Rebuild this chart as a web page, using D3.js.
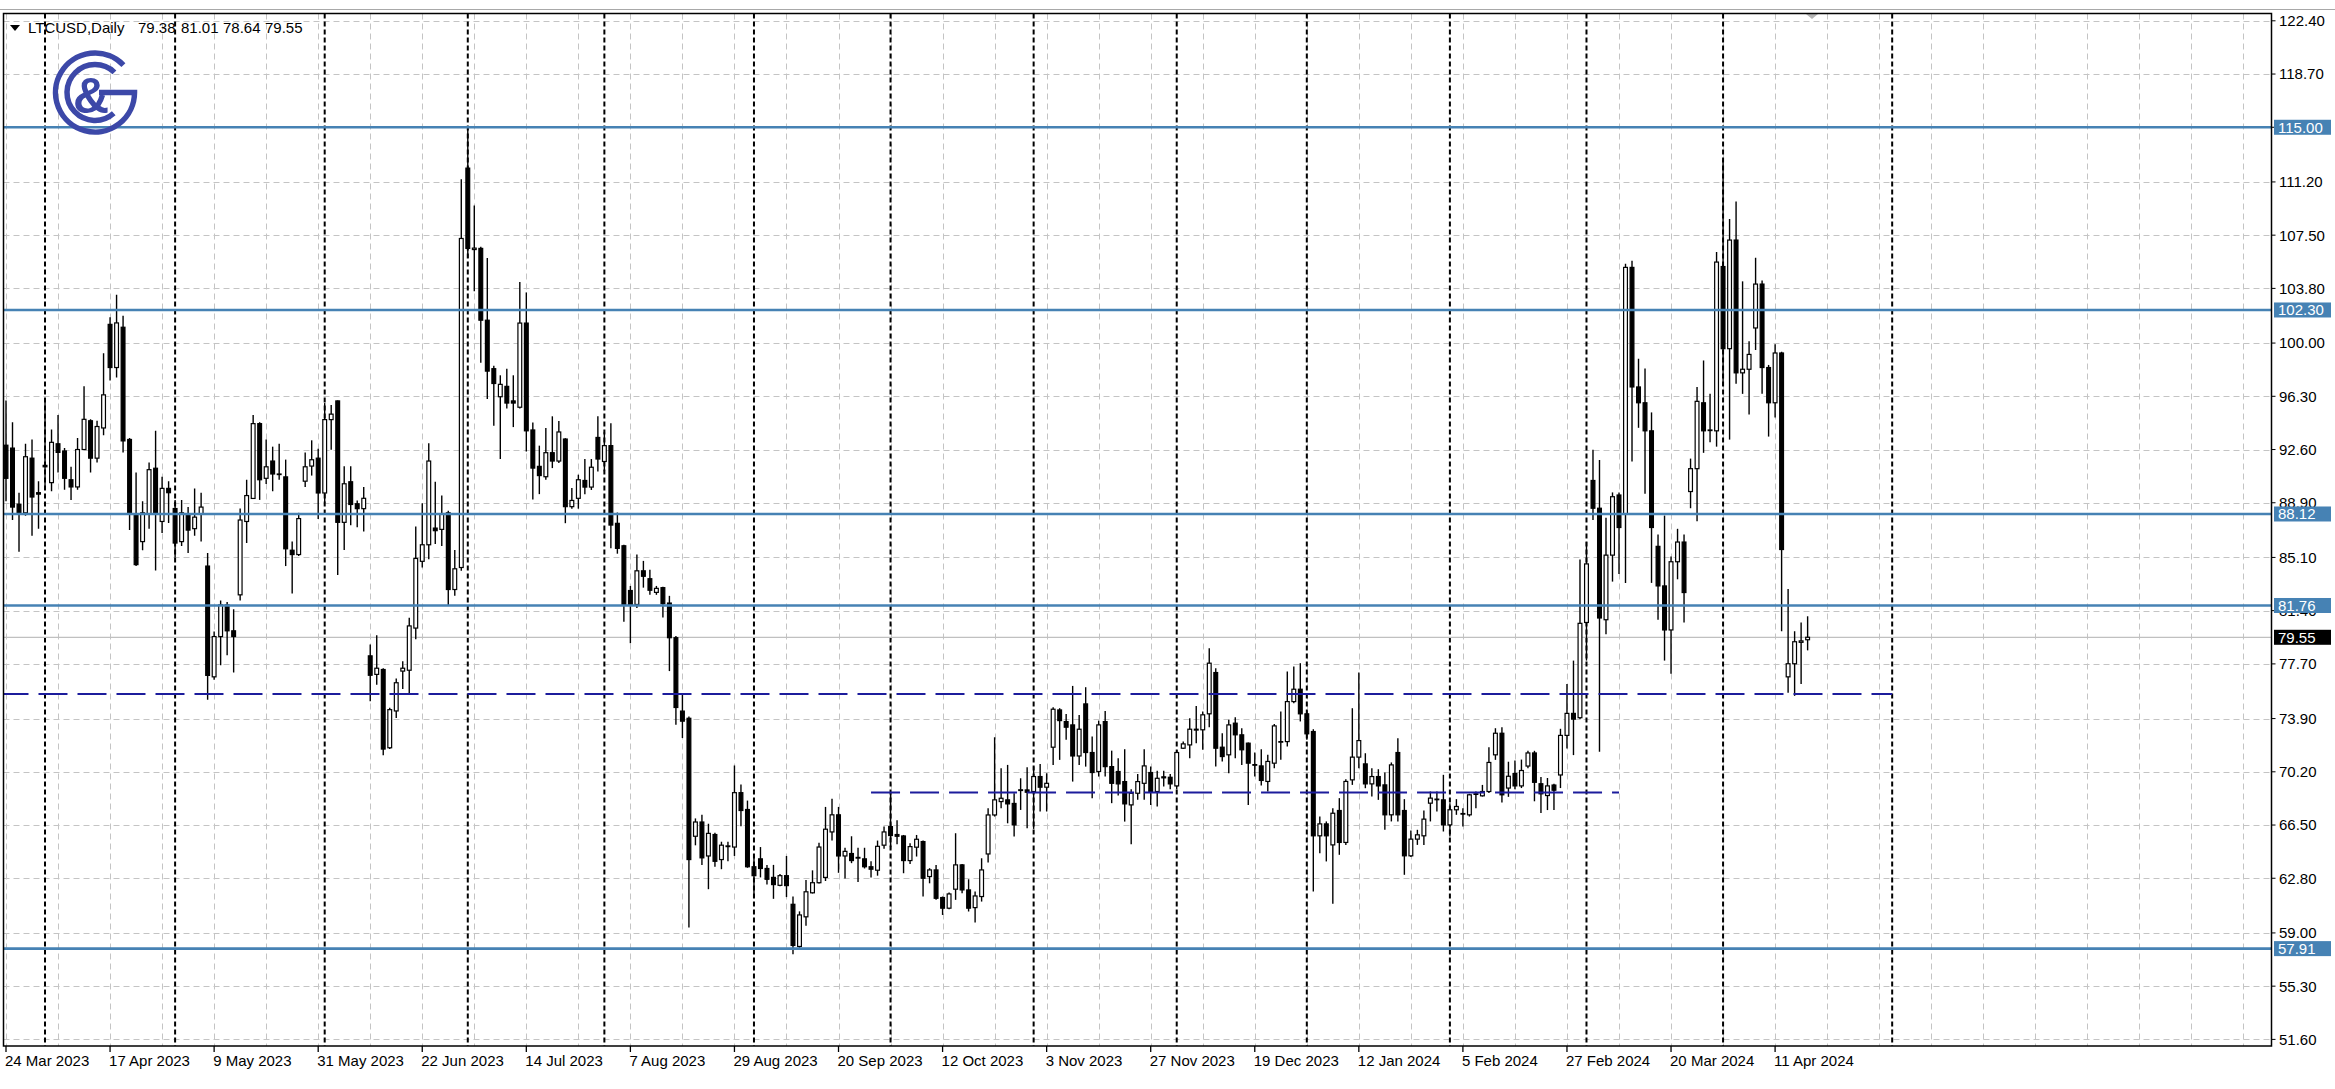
<!DOCTYPE html>
<html><head><meta charset="utf-8">
<script src="https://cdnjs.cloudflare.com/ajax/libs/d3/7.8.5/d3.min.js"></script>
<style>
html,body{margin:0;padding:0;background:#fff;overflow:hidden;}
svg{display:block;}
text{font-family:"Liberation Sans",Arial,sans-serif;}
</style></head><body>
<script>
// ---------------- DATA ----------------
const symbolName = "LTCUSD,Daily";
const lastQuote = [79.38, 81.01, 78.64, 79.55];

const openP = [
92.90,92.70,88.80,88.20,92.00,89.60,91.50,90.30,93.00,92.50,90.50,90.00,92.60,94.60,92.00,94.10,101.30,98.30,101.10,93.30,
88.10,86.20,88.10,91.30,87.60,89.90,88.50,86.20,88.10,87.10,88.10,84.50,76.80,79.60,81.80,80.00,82.50,87.60,89.20,94.40,
90.60,91.80,90.90,90.70,85.60,85.30,90.40,91.45,92.00,89.58,94.68,95.98,87.54,90.36,88.83,88.49,78.26,76.97,77.31,71.87,
74.43,77.20,77.26,80.19,84.83,85.98,87.14,87.05,88.20,82.87,84.40,112.16,106.50,106.58,101.59,98.22,96.27,96.99,95.98,95.54,
101.39,93.96,91.43,90.71,92.38,91.80,93.33,88.63,89.21,90.45,89.99,93.44,91.77,92.87,87.47,85.91,82.80,81.83,84.17,83.62,
82.67,83.00,81.93,79.52,74.42,73.92,65.72,66.71,64.35,65.84,64.10,65.00,64.97,68.75,67.58,63.60,64.15,63.48,62.86,62.31,
62.98,60.99,58.06,60.12,61.79,62.49,62.86,66.02,67.21,64.35,64.52,64.20,64.15,63.60,63.36,65.10,66.39,65.84,65.74,64.03,
64.96,65.35,62.92,63.38,61.46,60.72,62.04,63.73,61.99,60.76,61.53,64.49,67.20,68.13,68.25,68.00,68.90,68.94,68.83,69.87,
69.13,71.91,74.50,73.69,73.46,71.30,74.92,71.54,70.22,73.69,70.56,70.22,69.52,67.90,68.71,69.40,70.15,68.83,69.85,69.82,
69.22,71.84,72.07,73.10,73.12,74.23,77.10,71.91,71.38,73.58,72.77,72.19,70.70,70.61,69.53,70.80,72.30,72.30,75.08,75.94,
74.23,73.00,65.75,66.58,65.12,67.51,65.29,69.64,71.22,70.75,69.36,69.87,69.29,67.21,71.54,67.51,64.36,65.52,65.75,68.02,
68.30,68.25,66.51,67.56,67.30,67.21,68.63,68.53,68.83,71.38,72.88,69.07,70.08,69.22,70.60,71.51,69.37,68.55,69.28,69.98,
72.73,74.26,73.96,80.58,90.45,88.52,80.77,85.26,89.44,88.10,105.26,96.95,95.85,93.90,85.87,83.12,80.06,84.80,86.17,89.68,
91.27,95.85,93.95,93.90,105.32,99.61,107.16,97.93,98.18,101.05,104.10,98.30,95.85,99.31,76.80,77.71,79.20,79.38];

const highP = [
96.00,94.50,89.60,93.00,93.30,90.40,95.90,94.00,95.00,92.70,91.40,93.40,97.00,94.70,94.60,99.30,101.80,103.35,101.90,93.40,
91.00,89.00,91.70,93.90,90.70,90.40,89.10,89.10,88.60,89.90,89.60,85.40,79.95,82.10,82.00,81.50,88.50,90.50,95.00,94.50,
93.30,92.80,93.00,91.90,86.20,88.20,92.40,93.24,92.66,95.83,95.69,96.00,91.43,91.43,89.06,89.99,79.04,79.70,77.40,74.66,
76.68,77.89,80.91,87.25,88.86,93.04,90.36,89.41,88.34,85.61,111.39,114.99,109.57,106.69,105.91,98.43,97.76,98.22,97.76,104.24,
103.52,94.48,92.87,94.10,94.91,94.59,93.39,89.93,90.85,91.94,91.94,94.91,93.81,94.43,88.22,85.98,83.12,85.31,84.86,84.24,
83.12,83.07,82.43,79.64,75.66,74.05,66.96,67.21,66.59,65.97,65.34,65.34,70.64,69.32,68.20,64.35,64.97,63.73,63.73,63.10,
64.35,61.54,60.50,62.68,63.35,65.27,67.76,68.33,67.76,64.92,65.72,64.92,64.92,63.98,65.42,66.39,68.70,66.84,65.81,65.23,
65.81,65.42,63.50,63.73,61.53,61.81,65.93,63.80,62.73,61.88,64.19,67.67,72.60,70.45,70.68,68.71,69.75,70.52,70.56,70.75,
70.10,74.69,74.62,74.22,76.17,74.15,76.08,72.65,73.76,74.43,71.67,71.14,71.77,68.99,70.05,71.77,70.56,70.28,70.28,70.05,
71.72,72.30,73.92,74.78,74.39,78.79,77.40,72.88,73.81,74.00,73.23,72.24,71.54,71.77,71.38,73.53,74.39,77.17,77.52,77.75,
74.46,73.16,67.09,66.75,67.67,68.37,69.69,74.62,77.10,71.49,70.45,70.38,70.15,70.85,72.54,68.30,66.12,66.17,67.51,68.83,
68.83,69.99,68.02,68.30,67.67,68.67,68.83,69.29,71.91,73.23,73.30,70.90,70.99,71.05,71.66,71.66,69.83,69.77,69.37,73.19,
76.31,77.93,84.95,86.17,92.59,91.88,87.85,89.62,89.62,105.51,105.72,98.91,98.24,95.18,86.69,88.01,85.16,87.09,86.69,91.97,
96.95,98.79,96.47,106.33,112.75,108.62,109.84,104.29,100.13,105.93,104.35,98.48,99.92,99.40,82.90,79.97,80.58,81.01];

const lowP = [
89.00,87.70,85.50,88.00,86.60,87.10,90.00,89.70,91.00,89.80,89.10,89.80,92.60,91.00,91.70,93.60,97.40,97.60,92.40,87.00,
84.50,85.60,87.10,84.20,86.80,87.50,85.10,85.90,85.40,86.60,86.20,75.20,76.60,77.60,78.30,77.10,82.10,86.10,89.20,89.10,
90.20,89.70,90.50,84.50,82.60,85.20,90.00,90.79,87.77,88.92,92.58,83.88,85.61,87.34,87.19,86.90,75.10,76.25,71.35,71.78,
73.94,75.96,75.58,79.42,84.40,84.97,86.04,85.90,81.72,82.44,84.17,105.91,103.61,98.63,96.12,94.25,91.94,95.46,94.16,95.46,
92.46,89.12,89.50,90.50,91.31,91.66,87.48,88.49,88.49,89.50,89.79,91.08,91.08,85.73,85.36,80.63,79.14,81.58,83.00,82.50,
82.50,80.93,77.20,73.47,72.55,59.38,65.09,63.73,62.04,63.60,63.43,63.98,64.35,66.41,63.53,61.49,62.86,62.36,61.37,62.24,
61.49,57.51,57.96,59.50,61.74,62.44,62.61,65.42,63.18,62.78,63.85,62.54,63.48,62.86,62.98,64.85,64.97,65.17,63.15,63.80,
64.31,61.53,62.45,61.30,60.25,60.65,61.30,61.76,60.49,59.72,61.18,63.89,67.09,67.67,66.62,65.70,67.55,66.28,66.23,67.44,
67.44,70.68,71.03,72.42,69.52,70.68,70.56,68.36,69.87,69.87,68.02,68.55,66.74,65.17,68.25,68.25,67.90,67.78,69.17,68.99,
68.99,71.78,71.14,72.18,71.73,73.30,70.57,70.92,70.10,71.15,70.68,67.90,69.87,69.25,68.83,70.45,71.03,71.96,74.97,73.70,
72.42,61.88,64.54,63.97,61.02,64.43,65.12,69.29,70.45,69.06,68.48,68.25,66.17,66.75,66.75,63.04,64.27,65.12,65.12,66.75,
67.44,66.05,65.70,67.21,66.40,67.09,67.67,68.48,68.72,71.03,68.07,68.46,68.98,69.07,70.44,68.15,67.33,67.54,67.54,69.07,
71.82,71.36,73.86,77.93,87.70,71.60,79.76,83.42,83.94,83.33,91.76,94.11,89.53,83.33,80.77,77.93,77.01,83.58,80.58,88.52,
87.61,92.37,93.11,92.80,97.02,93.29,97.17,96.47,95.03,99.52,96.47,93.50,94.82,79.97,75.70,75.48,76.31,78.64];

const closeP = [
90.60,88.60,88.20,92.10,89.30,89.50,91.40,93.10,92.40,90.60,90.00,92.60,94.70,92.00,94.20,96.40,98.30,101.40,93.20,88.20,
84.60,88.20,91.20,88.10,89.90,89.60,86.10,88.20,87.00,87.90,88.60,76.90,79.60,81.80,80.00,79.60,87.70,89.40,94.40,90.50,
91.40,90.90,90.90,85.70,85.30,87.80,91.40,91.89,89.58,94.68,95.06,87.54,90.22,88.78,88.49,89.21,76.91,77.40,71.78,74.52,
76.39,77.40,80.34,85.03,85.98,91.80,86.96,88.14,82.87,84.31,107.27,106.58,106.60,101.59,98.05,97.19,97.13,95.83,95.83,101.39,
93.90,91.31,90.79,92.38,91.80,93.82,88.63,89.06,90.50,89.99,91.37,91.94,92.87,87.35,85.73,81.83,81.83,84.17,83.79,82.82,
82.95,81.88,79.52,74.67,73.72,64.10,66.71,64.22,65.92,63.98,65.10,65.05,68.75,67.51,63.60,62.98,63.48,62.73,62.36,62.98,
62.29,58.13,60.25,61.86,62.49,64.97,66.21,67.21,64.35,64.67,64.03,64.25,63.60,63.43,65.02,66.02,65.77,65.72,64.03,65.00,
65.51,62.80,63.38,61.41,60.72,61.71,63.73,61.99,60.72,61.57,63.38,67.20,68.25,68.36,67.97,66.51,68.95,68.78,69.87,69.13,
69.40,74.55,73.76,73.30,71.30,73.16,71.54,70.15,73.46,70.56,69.40,69.36,67.97,68.71,69.52,70.61,68.83,69.75,69.78,69.36,
71.54,72.14,73.16,73.16,74.16,77.75,71.84,71.26,73.46,72.77,71.73,70.80,70.68,69.60,70.92,73.39,72.30,75.08,75.94,74.23,
72.84,65.75,66.58,65.75,67.32,65.29,69.53,71.22,72.37,69.36,69.87,69.22,67.21,70.68,67.21,64.36,65.52,65.82,66.91,68.37,
68.30,66.51,67.56,67.79,67.28,68.60,68.67,68.83,70.85,72.88,68.60,69.89,69.22,70.29,71.51,69.47,68.67,69.22,68.92,72.73,
74.26,73.86,80.52,84.65,88.52,80.89,85.26,89.32,87.18,105.26,96.95,95.85,93.90,87.18,83.12,80.06,84.80,86.17,82.66,91.27,
95.95,93.90,93.96,105.63,99.61,107.16,97.93,98.18,99.21,104.10,98.30,95.85,99.31,85.65,77.71,79.24,79.30,79.55];

const timeLabels = ["24 Mar 2023","17 Apr 2023","9 May 2023","31 May 2023","22 Jun 2023","14 Jul 2023",
  "7 Aug 2023","29 Aug 2023","20 Sep 2023","12 Oct 2023","3 Nov 2023","27 Nov 2023","19 Dec 2023",
  "12 Jan 2024","5 Feb 2024","27 Feb 2024","20 Mar 2024","11 Apr 2024"];
const priceTicks = [122.40,118.70,115.00,111.20,107.50,103.80,100.00,96.30,92.60,88.90,85.10,81.40,
  77.70,73.90,70.20,66.50,62.80,59.00,55.30,51.60];

const solidLevels = [115.00, 102.30, 88.12, 81.76, 57.91];
const dashedLevels = [75.60, 68.77];
const dashedFromBar = [-1, 133];
const dashedToBar = [290, 248];
const holidayDates = ["2023-12-25", "2024-01-01"];

// ---------------- LAYOUT ----------------
const W = 2335, H = 1089;
const plot = {left: 3.5, top: 13.5, right: 2271.5, bottom: 1046};
const N = openP.length;
const barsPerLabel = 16, barsPerGrid = 8;

const x = d3.scaleLinear().domain([0, 272]).range([6, 1775.1]);
const y = d3.scaleLinear().domain([51.6, 122.4]).range([1039.4, 20.8]);
const fmt = d3.format(".2f");

// build trading dates (weekdays, skipping holidays), then future calendar days
const dates = [];
{
  const hol = new Set(holidayDates);
  let d = new Date(Date.UTC(2023, 2, 24));
  while (dates.length < N) {
    const dow = d.getUTCDay(), iso = d.toISOString().slice(0, 10);
    if (dow !== 0 && dow !== 6 && !hol.has(iso)) dates.push(new Date(d));
    d.setUTCDate(d.getUTCDate() + 1);
  }
  let f = new Date(dates[N - 1]);
  for (let i = 0; i < 90; i++) { f.setUTCDate(f.getUTCDate() + 1); dates.push(new Date(f)); }
}
const separators = [];
for (let i = 1; i <= N + 14; i++) {
  if (dates[i].getUTCMonth() !== dates[i - 1].getUTCMonth()) separators.push(i);
}

const svg = d3.select("body").append("svg").attr("width", W).attr("height", H);
svg.append("rect").attr("width", W).attr("height", H).attr("fill", "#ffffff");
svg.append("line").attr("x1", 0).attr("x2", W).attr("y1", 9.5).attr("y2", 9.5)
  .attr("stroke", "#a8a8a8").attr("stroke-width", 1);

svg.append("defs").append("clipPath").attr("id", "clip").append("rect")
  .attr("x", plot.left).attr("y", plot.top)
  .attr("width", plot.right - plot.left).attr("height", plot.bottom - plot.top);
const g = svg.append("g").attr("clip-path", "url(#clip)");

// horizontal grid
g.append("g").selectAll("line").data(priceTicks).join("line")
  .attr("x1", plot.left).attr("x2", plot.right)
  .attr("y1", d => Math.round(y(d)) + 0.5).attr("y2", d => Math.round(y(d)) + 0.5)
  .attr("stroke", "#c4c4c4").attr("stroke-width", 1).attr("stroke-dasharray", "6,4");

// vertical grid every 8 bars
const maxBar = Math.floor(x.invert(plot.right));
const gridBars = d3.range(0, maxBar + 1, barsPerGrid);
g.append("g").selectAll("line").data(gridBars).join("line")
  .attr("x1", d => Math.round(x(d)) + 0.5).attr("x2", d => Math.round(x(d)) + 0.5)
  .attr("y1", plot.top).attr("y2", plot.bottom)
  .attr("stroke", "#c4c4c4").attr("stroke-width", 1).attr("stroke-dasharray", "6,4");

// month separators
g.append("g").selectAll("line").data(separators).join("line")
  .attr("x1", d => x(d)).attr("x2", d => x(d))
  .attr("y1", plot.top).attr("y2", plot.bottom)
  .attr("stroke", "#000").attr("stroke-width", 2).attr("stroke-dasharray", "5,3");

// current price (bid) line
g.append("line").attr("x1", plot.left).attr("x2", plot.right)
  .attr("y1", y(lastQuote[3])).attr("y2", y(lastQuote[3]))
  .attr("stroke", "#c0c0c0").attr("stroke-width", 1.2);

// candles
const bars = d3.range(N).map(i => ({i, o: openP[i], h: highP[i], l: lowP[i], c: closeP[i]}));
const cg = g.append("g");
cg.selectAll("line").data(bars).join("line")
  .attr("x1", d => x(d.i)).attr("x2", d => x(d.i))
  .attr("y1", d => y(d.h)).attr("y2", d => y(d.l))
  .attr("stroke", "#000").attr("stroke-width", 1.4);
cg.selectAll("rect").data(bars).join("rect")
  .attr("x", d => x(d.i) - 1.9).attr("width", 3.8)
  .attr("y", d => y(Math.max(d.o, d.c)))
  .attr("height", d => Math.max(0.6, Math.abs(y(d.o) - y(d.c))))
  .attr("fill", d => d.c >= d.o ? "#fff" : "#000")
  .attr("stroke", "#000").attr("stroke-width", 1.2);

// dashed levels
g.append("g").selectAll("line").data(dashedLevels).join("line")
  .attr("x1", (d, k) => x(dashedFromBar[k])).attr("x2", (d, k) => x(dashedToBar[k]))
  .attr("y1", d => y(d)).attr("y2", d => y(d))
  .attr("stroke", "#1c1c9c").attr("stroke-width", 2).attr("stroke-dasharray", "29,10");

// solid levels
g.append("g").selectAll("line").data(solidLevels).join("line")
  .attr("x1", plot.left).attr("x2", plot.right)
  .attr("y1", d => y(d)).attr("y2", d => y(d))
  .attr("stroke", "#4682b4").attr("stroke-width", 2.6);

// shift marker
svg.append("path").attr("d", "M1806,14 L1818,14 L1812,19 Z").attr("fill", "#b4b4b4");

// frame
svg.append("rect").attr("x", plot.left).attr("y", plot.top)
  .attr("width", plot.right - plot.left).attr("height", plot.bottom - plot.top)
  .attr("fill", "none").attr("stroke", "#000").attr("stroke-width", 1.5);

// right price axis
const ax = svg.append("g");
ax.selectAll("line").data(priceTicks).join("line")
  .attr("x1", plot.right).attr("x2", plot.right + 4)
  .attr("y1", d => y(d)).attr("y2", d => y(d))
  .attr("stroke", "#000").attr("stroke-width", 1);
ax.selectAll("text").data(priceTicks).join("text")
  .attr("x", 2279).attr("y", d => y(d)).attr("dy", "0.36em")
  .attr("font-size", 15).attr("fill", "#000").text(d => fmt(d));

// level labels
const lab = svg.append("g");
const levelBoxes = solidLevels.map(v => ({v, fill: "#4682b4"})).concat([{v: lastQuote[3], fill: "#000"}]);
lab.selectAll("rect").data(levelBoxes).join("rect")
  .attr("x", 2274).attr("width", 57).attr("y", d => y(d.v) - 7.5).attr("height", 15)
  .attr("fill", d => d.fill);
lab.selectAll("text").data(levelBoxes).join("text")
  .attr("x", 2278).attr("y", d => y(d.v)).attr("dy", "0.36em")
  .attr("font-size", 15).attr("fill", "#fff").text(d => fmt(d.v));

// bottom time axis
const labelBars = timeLabels.map((t, k) => k * barsPerLabel);
const tx = svg.append("g");
tx.selectAll("line").data(labelBars).join("line")
  .attr("x1", d => x(d)).attr("x2", d => x(d))
  .attr("y1", plot.bottom).attr("y2", plot.bottom + 6)
  .attr("stroke", "#000").attr("stroke-width", 1.3);
tx.selectAll("text").data(timeLabels).join("text")
  .attr("x", (t, k) => x(labelBars[k]) - 1).attr("y", 1066)
  .attr("font-size", 15).attr("fill", "#000").text(t => t);

// header
svg.append("path").attr("d", "M10,25 L20,25 L15,31 Z").attr("fill", "#000");
const hdr = svg.append("text").attr("y", 33).attr("font-size", 15).attr("fill", "#000");
hdr.append("tspan").attr("x", 28).text(symbolName);
const qx = [138, 181, 223, 265];
lastQuote.forEach((q, k) => hdr.append("tspan").attr("x", qx[k]).text(fmt(q)));

// logo
const logo = svg.append("g").attr("transform", "translate(95,92.5)")
  .attr("fill", "none").attr("stroke", "#3c48a8").attr("stroke-width", 5.5);
const arcPt = (r, deg) => [r * Math.cos(deg * Math.PI / 180), r * Math.sin(deg * Math.PI / 180)];
{
  const r = 39.5; const a = arcPt(r, -44);
  logo.append("path").attr("d", `M${a[0]},${a[1]} A${r},${r} 0 1 0 ${r},0 L4,0`);
  const r2 = 28; const b = arcPt(r2, -46), e = arcPt(r2, 48);
  logo.append("path").attr("d", `M${b[0]},${b[1]} A${r2},${r2} 0 1 0 ${e[0]},${e[1]}`);
}
svg.append("text").attr("x", 91).attr("y", 113).attr("text-anchor", "middle")
  .attr("font-size", 50).attr("font-weight", "bold").attr("fill", "#3c48a8").text("&");
</script>
</body></html>
